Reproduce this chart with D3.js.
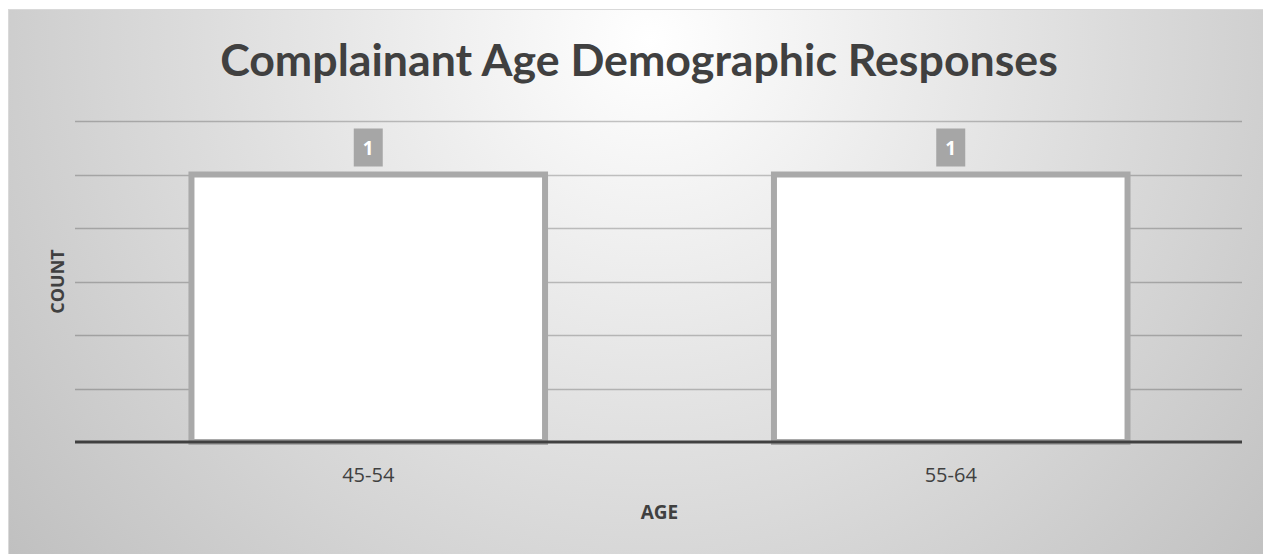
<!DOCTYPE html>
<html>
<head>
<meta charset="utf-8">
<script src="https://cdn.jsdelivr.net/npm/d3@7"></script>
<style>
  html, body { margin: 0; padding: 0; background: #ffffff; }
  svg { display: block; }
</style>
</head>
<body>
<svg id="chart" width="1263" height="554"></svg>
<script>
// Chart data
const categories = ["45-54", "55-64"];
const counts = [1, 1];
const yTicks = [0, 0.2, 0.4, 0.6, 0.8, 1, 1.2];
const titleText = "Complainant Age Demographic Responses";
const xTitle = "AGE";
const yTitle = "COUNT";

const W = 1263, H = 554;
const svg = d3.select("#chart");
const FONT = "'Open Sans', 'Noto Sans', sans-serif";
const TITLE_FONT = "Lato, 'Open Sans', sans-serif";

// Background: radial wash, white near the title fading to grey at the edges
const defs = svg.append("defs");
const grad = defs.append("radialGradient")
  .attr("id", "bg")
  .attr("gradientUnits", "userSpaceOnUse")
  .attr("cx", 650).attr("cy", 40).attr("r", 820);
grad.append("stop").attr("offset", 0).attr("stop-color", "#ffffff");
grad.append("stop").attr("offset", 1).attr("stop-color", "#c0c0c0");

svg.append("rect")
  .attr("x", 8.5).attr("y", 9.5)
  .attr("width", W).attr("height", H)
  .attr("fill", "url(#bg)")
  .attr("stroke", "#d9d9d9").attr("stroke-width", 1);

// Plot area
const plot = { left: 77, right: 1242, top: 121, bottom: 442 };

const x = d3.scaleBand()
  .domain(categories)
  .range([plot.left, plot.right])
  .paddingInner(0.393)
  .paddingOuter(0.1965);

const y = d3.scaleLinear()
  .domain([0, 1.2])
  .range([plot.bottom, plot.top]);

// Title (fit to its measured width)
const title = svg.append("text")
  .attr("x", 639).attr("y", 76)
  .attr("text-anchor", "middle")
  .attr("font-family", TITLE_FONT)
  .attr("font-weight", 700)
  .attr("font-size", 40)
  .attr("fill", "#404040")
  .text(titleText);
const tw = title.node().getComputedTextLength();
title.attr("font-size", 40 * 838 / tw);

// Gridlines
svg.append("g")
  .selectAll("line")
  .data(yTicks.filter(d => d > 0))
  .join("line")
  .attr("x1", plot.left - 2).attr("x2", plot.right)
  .attr("y1", d => Math.round(y(d)) + 0.5)
  .attr("y2", d => Math.round(y(d)) + 0.5)
  .attr("stroke", "#000")
  .attr("stroke-opacity", 0.22)
  .attr("stroke-width", 1.5);

// Bars
svg.append("g")
  .selectAll("rect")
  .data(counts)
  .join("rect")
  .attr("x", (d, i) => x(categories[i]))
  .attr("width", x.bandwidth())
  .attr("y", d => y(d))
  .attr("height", d => y(0) - y(d))
  .attr("fill", "#ffffff")
  .attr("stroke", "#a9a9a9")
  .attr("stroke-width", 6);

// Baseline axis
const xAxis = svg.append("g")
  .attr("transform", `translate(0,${plot.bottom})`)
  .call(d3.axisBottom(x).tickSize(0).tickPadding(0));
xAxis.select(".domain")
  .attr("d", `M${plot.left - 2},0H${plot.right}`)
  .attr("stroke", "#404040")
  .attr("stroke-width", 3);
xAxis.selectAll(".tick text")
  .attr("y", 40)
  .attr("dy", 0)
  .attr("font-family", FONT)
  .attr("font-size", 20)
  .attr("fill", "#404040");

// Data labels
const labels = svg.append("g")
  .selectAll("g")
  .data(counts)
  .join("g")
  .attr("transform", (d, i) => `translate(${x(categories[i]) + x.bandwidth() / 2},${y(d)})`);
labels.append("rect")
  .attr("x", -14.5).attr("y", -46)
  .attr("width", 29).attr("height", 38)
  .attr("fill", "#a6a6a6");
labels.append("text")
  .attr("y", -20)
  .attr("text-anchor", "middle")
  .attr("font-family", FONT)
  .attr("font-weight", 700)
  .attr("font-size", 19)
  .attr("fill", "#ffffff")
  .text(d => d);

// Axis titles
svg.append("text")
  .attr("x", (plot.left + plot.right) / 2)
  .attr("y", 519)
  .attr("text-anchor", "middle")
  .attr("font-family", FONT)
  .attr("font-weight", 700)
  .attr("font-size", 19)
  .attr("fill", "#404040")
  .text(xTitle);

svg.append("text")
  .attr("transform", `translate(64,${(plot.top + plot.bottom) / 2}) rotate(-90)`)
  .attr("text-anchor", "middle")
  .attr("font-family", FONT)
  .attr("font-weight", 700)
  .attr("font-size", 18)
  .attr("fill", "#404040")
  .text(yTitle);
</script>
</body>
</html>
